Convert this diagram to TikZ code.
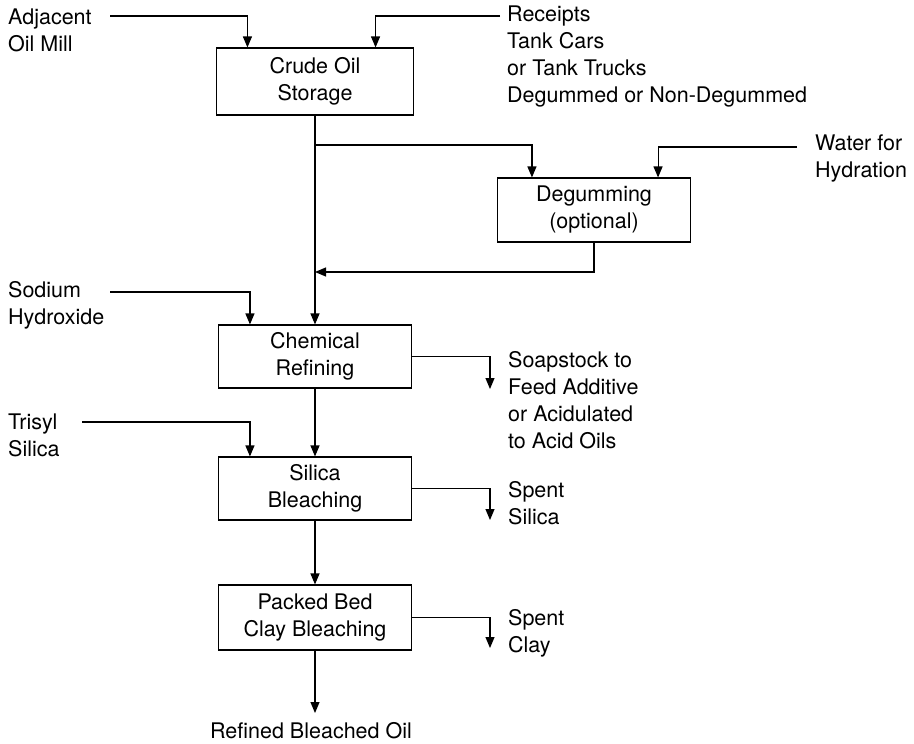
\documentclass[tikz,border=0pt]{standalone}
\usepackage{fontspec}
\setmainfont{TeX Gyre Heros}
\usetikzlibrary{positioning,arrows.meta}

\begin{document}
\begin{tikzpicture}[x=1pt,y=-1pt,
  font=\fontsize{21.5}{27}\selectfont,
  box/.style={draw,line width=1.1pt,minimum width=193pt,minimum height=64pt,align=center,inner sep=2pt},
  lbl/.style={anchor=west,align=left,inner sep=0pt},
  arr/.style={-{Triangle[length=11pt,width=9pt]},line width=1.1pt}]
\useasboundingbox (0,0) rectangle (914,744);
% main column
\node[box,minimum width=197pt,minimum height=67pt] (crude) at (315,81.5) {Crude Oil\\Storage};
\node[box] (degum) at (594,210) {Degumming\\(optional)};
\node[box,minimum height=63pt] (chem) at (315,356.5) {Chemical\\Refining};
\node[box,minimum height=63pt] (silica) at (315,488.5) {Silica\\Bleaching};
\node[box,minimum height=65pt] (packed) at (315,617.5) {Packed Bed\\Clay Bleaching};
% feeds and products
\node[lbl] (adj) at (8,30.5) {Adjacent\\Oil Mill};
\node[lbl] (rcpt) at (507,57) {Receipts\\Tank Cars\\or Tank Trucks\\Degummed or Non-Degummed};
\node[lbl] (water) at (815,158) {Water for\\Hydration};
\node[lbl] (naoh) at (8,305.5) {Sodium\\Hydroxide};
\node[lbl] (trisyl) at (8,435) {Trisyl\\Silica};
\node[lbl] (soap) at (508,400) {Soapstock to\\Feed Additive\\or Acidulated\\to Acid Oils};
\node[lbl] (spsil) at (508,503.5) {Spent\\Silica};
\node[lbl] (spclay) at (508,633.5) {Spent\\Clay};
\node[inner sep=0pt] (oil) at (311,731) {Refined Bleached Oil};
% line ends
\coordinate (adjin) at (110,16);
\coordinate (rcptin) at (500,16);
\coordinate (split) at (315,145);
\coordinate (waterin) at (797,147);
\coordinate (merge) at (315,272);
\coordinate (naohin) at (110,292);
\coordinate (trisylin) at (82,422);
\coordinate (soapout) at (490,389);
\coordinate (silout) at (490,520);
\coordinate (clayout) at (490,648);
\coordinate (oilout) at (315,713);
% connectors
\draw[arr] (adjin) -| ([xshift=31.5pt]crude.north west);
\draw[arr] (rcptin) -| ([xshift=-38.5pt]crude.north east);
\draw[arr] (crude.south) -- (chem.north);
\draw[arr] (split) -| ([xshift=35pt]degum.north west);
\draw[arr] (waterin) -| ([xshift=-33pt]degum.north east);
\draw[arr] (degum.south) |- (merge);
\draw[arr] (naohin) -| ([xshift=32pt]chem.north west);
\draw[arr] (chem.east) -| (soapout);
\draw[arr] (trisylin) -| ([xshift=32pt]silica.north west);
\draw[arr] (chem.south) -- (silica.north);
\draw[arr] (silica.east) -| (silout);
\draw[arr] (silica.south) -- (packed.north);
\draw[arr] (packed.east) -| (clayout);
\draw[arr] (packed.south) -- (oilout);
\end{tikzpicture}
\end{document}
